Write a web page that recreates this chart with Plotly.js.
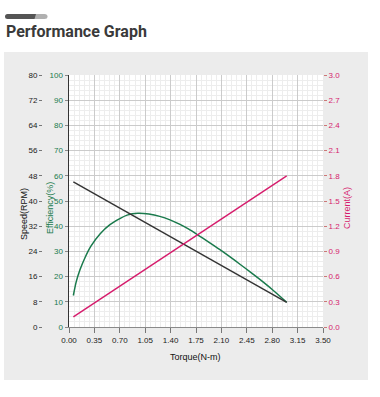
<!DOCTYPE html>
<html><head><meta charset="utf-8">
<script src="https://cdn.plot.ly/plotly-3.0.1.min.js"></script>
<style>html,body{margin:0;padding:0;background:#fff}#chart{width:380px;height:397px}</style>
</head><body><div id="chart"></div>
<script>
// ---- data ----
var torqueTicks = [0, 0.35, 0.70, 1.05, 1.40, 1.75, 2.10, 2.45, 2.80, 3.15, 3.50];
var speedTorque = [0.06, 3.00];
var speedRPM    = [46.1, 7.8];
var currentTorque = [0.06, 3.00];
var currentA      = [0.12, 1.80];
var effTorque = [0.06, 0.10, 0.15, 0.22, 0.30, 0.43, 0.56, 0.70, 0.80, 0.95, 1.10, 1.25, 1.40, 1.53, 1.65, 1.76, 1.92, 2.08, 2.22, 2.36, 2.50, 2.63, 2.80, 3.00];
var effPct    = [12.5, 18.0, 22.6, 27.5, 32.0, 37.0, 40.5, 43.0, 44.4, 45.1, 44.8, 43.9, 42.4, 40.7, 38.8, 36.8, 33.8, 30.7, 27.8, 24.8, 21.8, 18.9, 14.9, 9.8];

var W = 380, H = 397;
function px(x){return x/W;}
function py(y){return 1 - y/H;}
var F = '"Liberation Sans", Arial, sans-serif';
var GREEN = '#1a7a4c', PINK = '#d61c6c', DARK = '#333';

var traces = [
  {x: speedTorque, y: speedRPM, yaxis: 'y2', mode: 'lines', line: {color: DARK, width: 1.4}, name: 'Speed'},
  {x: effTorque, y: effPct, yaxis: 'y', mode: 'lines', line: {color: GREEN, width: 1.5, shape: 'spline', smoothing: 0.8}, name: 'Efficiency'},
  {x: currentTorque, y: currentA, yaxis: 'y3', mode: 'lines', line: {color: PINK, width: 1.4}, name: 'Current'}
];

var xd = [px(69), px(323)], yd = [py(327), py(75)];
var tickFont = {family: F, size: 8, color: '#222'};

var layout = {
  width: W, height: H,
  margin: {l: 0, r: 0, t: 0, b: 0},
  paper_bgcolor: '#fff', plot_bgcolor: '#fff',
  showlegend: false,
  title: {text: 'Performance Graph', x: px(6), xanchor: 'left', xref: 'paper', yref: 'paper', y: py(31), yanchor: 'middle',
          font: {family: 'Roboto, sans-serif', size: 16, weight: 'bold', color: '#3a3a3a'}},
  xaxis: {domain: xd, range: [0, 3.5], tickmode: 'array', tickvals: torqueTicks, ticktext: torqueTicks.map(function(v){return v.toFixed(2);}),
          showgrid: true, gridcolor: '#cbcbcb', gridwidth: 1, zeroline: false,
          minor: {dtick: 0.07, tick0: 0, showgrid: true, gridcolor: '#ededed', gridwidth: 1},
          showline: true, linecolor: '#8a8a8a', linewidth: 1.2,
          ticks: 'outside', ticklen: 5, tickcolor: '#777', tickfont: tickFont, fixedrange: true},
  yaxis: {domain: yd, range: [0, 100], tick0: 0, dtick: 10, showgrid: true, gridcolor: '#cbcbcb', gridwidth: 1, zeroline: false,
          minor: {dtick: 2, tick0: 0, showgrid: true, gridcolor: '#ededed', gridwidth: 1},
          showline: true, linecolor: '#333', linewidth: 1.5, ticks: 'outside', ticklen: 3, tickcolor: '#888',
          tickfont: {family: F, size: 8, color: GREEN}, anchor: 'x', side: 'left'},
  yaxis2: {overlaying: 'y', anchor: 'free', position: px(42), side: 'left', range: [0, 80], tick0: 0, dtick: 8,
           showgrid: false, zeroline: false, showline: false, ticks: 'outside', ticklen: 3, tickcolor: '#777',
           tickfont: {family: F, size: 8, color: '#222'}},
  yaxis3: {overlaying: 'y', anchor: 'x', side: 'right', range: [0, 3], tick0: 0, dtick: 0.3, tickformat: '.1f',
           showgrid: false, zeroline: false, showline: false, ticks: 'outside', ticklen: 3, tickcolor: '#c77',
           tickfont: {family: F, size: 8, color: PINK}},
  shapes: [
    {type: 'rect', xref: 'paper', yref: 'paper', x0: px(4), x1: px(368), y0: py(380), y1: py(52), fillcolor: '#ececec', line: {width: 0}, layer: 'below'},
    {type: 'rect', xref: 'paper', yref: 'paper', x0: xd[0], x1: xd[1], y0: yd[0], y1: yd[1], fillcolor: '#ffffff', line: {width: 0}, layer: 'below'},
    {type: 'path', xref: 'paper', yref: 'paper', layer: 'above', fillcolor: '#b0b0b0', line: {width: 0},
     path: 'M'+px(30)+','+py(14)+' L'+px(44.5)+','+py(14)+' Q'+px(47.5)+','+py(14)+' '+px(47.5)+','+py(16.5)+' Q'+px(47.5)+','+py(19)+' '+px(44.5)+','+py(19)+' L'+px(30)+','+py(19)+' Z'},
    {type: 'path', xref: 'paper', yref: 'paper', layer: 'above', fillcolor: '#555555', line: {width: 0},
     path: 'M'+px(7.5)+','+py(14)+' L'+px(36)+','+py(14)+' L'+px(34.5)+','+py(19)+' L'+px(7.5)+','+py(19)+' Q'+px(5)+','+py(19)+' '+px(5)+','+py(16.5)+' Q'+px(5)+','+py(14)+' '+px(7.5)+','+py(14)+' Z'}
  ],
  annotations: [
    {text: 'Speed(RPM)', xref: 'paper', yref: 'paper', x: px(24), y: py(214), textangle: -90, showarrow: false, xanchor: 'center', yanchor: 'middle',
     font: {family: F, size: 9, color: '#111'}},
    {text: 'Efficiency(%)', xref: 'paper', yref: 'paper', x: px(50), y: py(208), textangle: -90, showarrow: false, xanchor: 'center', yanchor: 'middle',
     font: {family: F, size: 9, color: GREEN}},
    {text: 'Current(A)', xref: 'paper', yref: 'paper', x: px(347), y: py(208), textangle: -90, showarrow: false, xanchor: 'center', yanchor: 'middle',
     font: {family: F, size: 9, color: PINK}},
    {text: 'Torque(N-m)', xref: 'paper', yref: 'paper', x: px(195), y: py(357), showarrow: false, xanchor: 'center', yanchor: 'middle',
     font: {family: F, size: 9, color: '#111'}}
  ]
};
Plotly.newPlot('chart', traces, layout, {displayModeBar: false, staticPlot: true});
</script></body></html>
